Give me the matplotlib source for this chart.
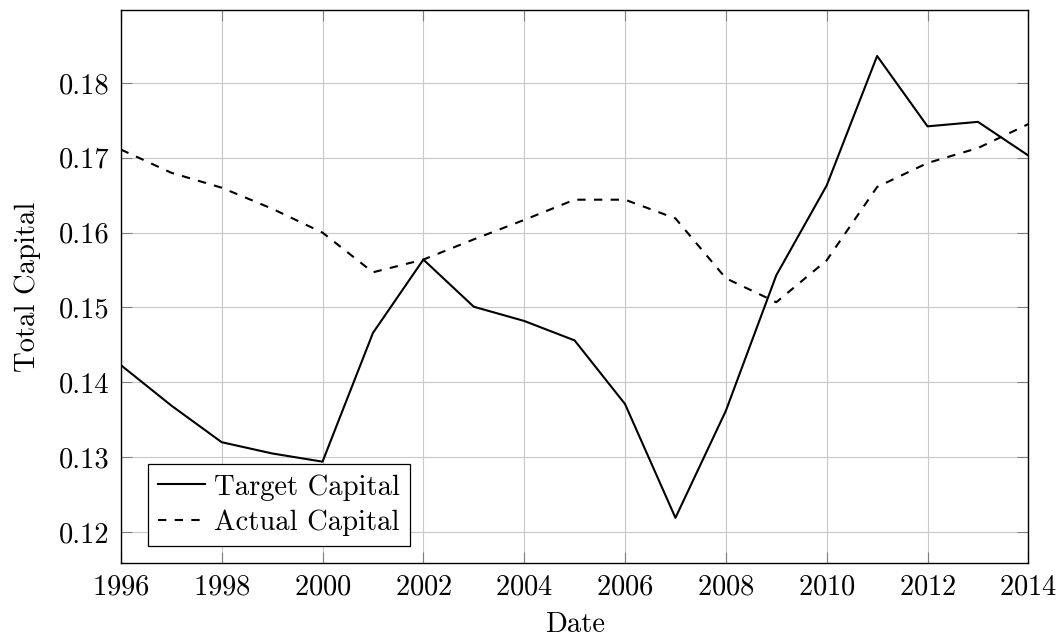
import matplotlib
matplotlib.use("Agg")
import matplotlib.pyplot as plt
from matplotlib.ticker import FormatStrFormatter

years = list(range(1996, 2015))
target_capital = [0.1423, 0.1369, 0.1320, 0.1305, 0.1294, 0.1466, 0.1564,
                  0.1501, 0.1482, 0.1456, 0.1371, 0.1219, 0.1362, 0.1543,
                  0.1663, 0.1836, 0.1742, 0.1748, 0.1703]
actual_capital = [0.1711, 0.1680, 0.1660, 0.1632, 0.1600, 0.1547, 0.1564,
                  0.1591, 0.1617, 0.1644, 0.1644, 0.1619, 0.1539, 0.1507,
                  0.1563, 0.1661, 0.1693, 0.1713, 0.1745]
x_ticks = list(range(1996, 2015, 2))
y_ticks = [0.12, 0.13, 0.14, 0.15, 0.16, 0.17, 0.18]

plt.rcParams["font.family"] = "cmr10"
plt.rcParams["mathtext.fontset"] = "cm"
plt.rcParams["axes.formatter.use_mathtext"] = True

FS = 20.6

fig = plt.figure(figsize=(10.64, 6.37), dpi=100)
ax = fig.add_axes([0.1136, 0.1166, 0.8529, 0.8672])

ax.plot(years, target_capital, color="black", lw=1.5, label="Target Capital", zorder=3)
ax.plot(years, actual_capital, color="black", lw=1.5, linestyle=(0, (4, 4)),
        label="Actual Capital", zorder=3)

ax.set_xlim(1996, 2014)
ax.set_ylim(0.1159, 0.1897)
ax.set_xticks(x_ticks)
ax.set_yticks(y_ticks)
ax.yaxis.set_major_formatter(FormatStrFormatter("%.2f"))

ax.grid(True, color="#c8c8c8", lw=0.8, zorder=0)
ax.set_axisbelow(True)
ax.tick_params(direction="in", top=True, right=True, length=8, width=0.8,
               color="#808080", labelsize=FS, pad=8)
for s in ax.spines.values():
    s.set_linewidth(1.0)
    s.set_color("black")

ax.set_xlabel("Date", fontsize=FS, labelpad=8)
ax.set_ylabel("Total Capital", fontsize=FS, labelpad=13)

leg = ax.legend(loc="lower left", bbox_to_anchor=(0.030, 0.031), borderaxespad=0,
                fontsize=FS, fancybox=False, framealpha=1, edgecolor="black",
                handlelength=1.65, handletextpad=0.3, labelspacing=0.3,
                borderpad=0.35)
leg.get_frame().set_linewidth(0.9)

fig.savefig("out.png", dpi=100)
